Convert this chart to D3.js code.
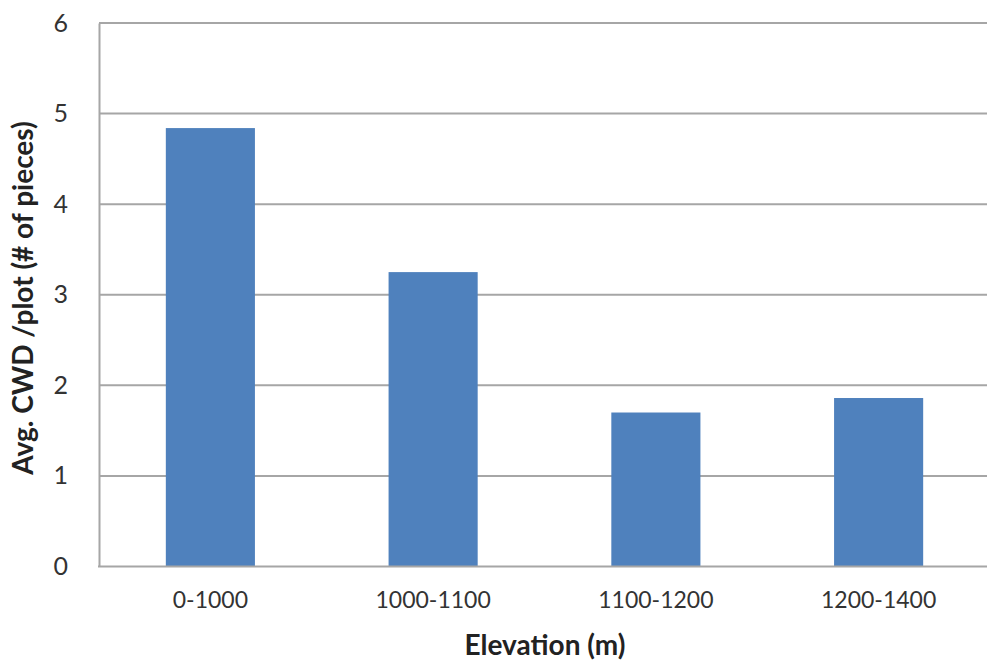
<!DOCTYPE html>
<html>
<head>
<meta charset="utf-8">
<script src="https://cdn.jsdelivr.net/npm/d3@7"></script>
<style>
  body { margin: 0; background: #fff; }
  svg { display: block; font-family: Lato, "Open Sans", sans-serif; }
</style>
</head>
<body>
<svg width="987" height="661"></svg>
<script>
// elevation classes and mean coarse woody debris pieces per plot
var categories = ["0-1000", "1000-1100", "1100-1200", "1200-1400"];
var values = [4.84, 3.25, 1.70, 1.86];
var yTicks = [0, 1, 2, 3, 4, 5, 6];

var svg = d3.select("svg"),
    width = +svg.attr("width"),
    height = +svg.attr("height");

var plotLeft = 99, plotTop = 23, plotRight = 990, plotBottom = 566.5;

var x = d3.scaleBand()
    .domain(categories)
    .range([plotLeft, plotRight])
    .paddingInner(0.6)
    .paddingOuter(0.3);

var y = d3.scaleLinear()
    .domain([0, 6])
    .range([plotBottom, plotTop]);

// gridlines
svg.append("g")
    .selectAll("line")
    .data(yTicks.filter(function(d) { return d > 0; }))
    .enter().append("line")
      .attr("x1", plotLeft)
      .attr("x2", width)
      .attr("y1", function(d) { return y(d); })
      .attr("y2", function(d) { return y(d); })
      .attr("stroke", "#a6a6a6")
      .attr("stroke-width", 2);

// bars
svg.append("g")
    .selectAll("rect")
    .data(values)
    .enter().append("rect")
      .attr("x", function(d, i) { return x(categories[i]); })
      .attr("y", function(d) { return y(d); })
      .attr("width", x.bandwidth())
      .attr("height", function(d) { return y(0) - y(d); })
      .attr("fill", "#4f81bd");

// y axis
var yAxis = svg.append("g")
    .attr("transform", "translate(" + plotLeft + ",0)")
    .call(d3.axisLeft(y).tickValues(yTicks).tickFormat(d3.format("d")).tickSize(0).tickPadding(31));
yAxis.select(".domain").attr("stroke", "#a6a6a6").attr("stroke-width", 2);
yAxis.selectAll("text")
    .attr("font-size", 25)
    .attr("font-family", "Lato, sans-serif")
    .attr("fill", "#333");

// x axis
var xAxis = svg.append("g")
    .attr("transform", "translate(0," + plotBottom + ")")
    .call(d3.axisBottom(x).tickSize(0).tickPadding(25));
xAxis.select(".domain").remove();
xAxis.append("line")
    .attr("x1", plotLeft - 1)
    .attr("x2", width)
    .attr("stroke", "#a6a6a6")
    .attr("stroke-width", 2);
xAxis.selectAll("text")
    .attr("font-size", 23)
    .attr("font-family", "Lato, sans-serif")
    .attr("fill", "#333");

// titles
svg.append("text")
    .attr("x", 545)
    .attr("y", 655)
    .attr("text-anchor", "middle")
    .attr("font-size", 28)
    .attr("font-weight", "bold")
    .attr("fill", "#222")
    .text("Elevation (m)");

svg.append("text")
    .attr("transform", "translate(33,298) rotate(-90)")
    .attr("text-anchor", "middle")
    .attr("font-size", 28)
    .attr("font-weight", "bold")
    .attr("fill", "#222")
    .text("Avg. CWD /plot (# of pieces)");
</script>
</body>
</html>
